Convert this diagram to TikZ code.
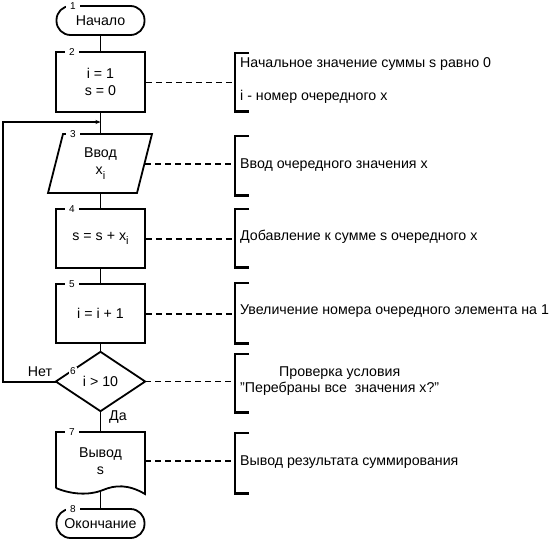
\documentclass[tikz,border=0pt]{standalone}
\usepackage{fontspec}
\setmainfont{Liberation Sans}
\usetikzlibrary{arrows.meta}
\newcommand{\subi}{\raisebox{-0.3em}{\fontsize{11}{11}\selectfont i}}
\begin{document}
\begin{tikzpicture}[x=1pt,y=-1pt,
  every node/.style={font=\fontsize{14.2}{17}\selectfont},
  ghost/.style={minimum width=89pt, minimum height=59pt, inner sep=0pt, align=center},
  proc/.style={ghost, draw, line width=1.8pt},
  term/.style={draw, line width=1.8pt, rounded corners=14pt, minimum width=88pt, minimum height=29pt, inner sep=0pt},
  shapeline/.style={line width=1.8pt, line join=miter},
  flow/.style={line width=1.2pt},
  num/.style={fill=white, inner xsep=4.5pt, inner ysep=0.5pt, font=\fontsize{10}{10}\selectfont},
  brk/.style={minimum width=14pt, inner sep=0pt},
  brkline/.style={line width=2.6pt},
  dashthin/.style={line width=1pt, dash pattern=on 6pt off 4pt},
  dashthick/.style={line width=2pt, dash pattern=on 6pt off 4pt},
  note/.style={anchor=west, inner sep=0pt},
]
\useasboundingbox (0,0) rectangle (549,541);

% flowchart blocks
\node[term] (t1) at (100.5,20.5) {Начало};
\node[proc, minimum height=60pt] (b2) at (100.5,82) {i = 1\\s = 0};
\node[ghost] (b3) at (100.5,163.5) {Ввод\\x\subi};
\draw[shapeline] (63,134) -- (152,134) -- (137,193) -- (48,193) -- cycle;
\node[proc] (b4) at (100.5,238.5) {s = s + x\subi};
\node[proc] (b5) at (100.5,313.5) {i = i + 1};
\node[ghost] (d6) at (100.5,381.5) {i > 10};
\draw[shapeline] (d6.north) -- (d6.east) -- (d6.south) -- (d6.west) -- cycle;
\node[ghost, minimum height=58pt] (b7) at (100.5,461) {Вывод\\s};
\draw[shapeline] (56,488) -- (56,432) -- (145,432) -- (145,494)
  .. controls (128,484) and (115,485) .. (103,490)
  .. controls (88,496) and (70,494) .. (56,488);
\node[term] (t8) at (100.5,523.5) {Окончание};

% flow lines
\draw[flow] (t1.south) -- (b2.north);
\draw[flow] (b2.south) -- (b3.north);
\draw[flow] (b3.south) -- (b4.north);
\draw[flow] (b4.south) -- (b5.north);
\draw[flow] (b5.south) -- (d6.north);
\draw[flow] (d6.south) -- (b7.north);
\draw[flow] (b7.south) -- (t8.north);

% loop back
\coordinate (lp) at (2.5,122);
\coordinate (j) at (100.5,122);
\draw[line width=2pt, -{Stealth[length=5pt,width=4pt]}] (d6.west) -| (lp) -- (j);

% numbers
\node[num] (n1) at (73,6) {1};
\node[num] (n2) at (72,52) {2};
\node[num] (n3) at (73,134) {3};
\node[num] (n4) at (72,209) {4};
\node[num] (n5) at (72,284) {5};
\node[num, inner xsep=1pt] (n6) at (73,371) {6};
\node[num] (n7) at (72,432) {7};
\node[num] (n8) at (73,509) {8};

% branch labels
\node (net) at (40,372) {Нет};
\node (da) at (118,417) {Да};

% brackets
\node[brk, minimum height=58pt] (k2) at (242,82) {};
\node[brk, minimum height=59pt] (k3) at (242,165.5) {};
\node[brk, minimum height=58pt] (k4) at (242,238) {};
\node[brk, minimum height=60pt] (k5) at (242,313) {};
\node[brk, minimum height=58pt] (k6) at (242,383) {};
\node[brk, minimum height=60pt] (k7) at (242,463) {};
\foreach \k in {k2,k3,k4,k5,k6,k7}
  \draw[brkline] (\k.north east) -| (\k.west) |- (\k.south east);

% dashed leaders
\draw[dashthin]  (b2.east) -- (b2.east -| k2.west);
\draw[dashthick] (b3.east) -- (b3.east -| k3.west);
\draw[dashthick] (b4.east) -- (b4.east -| k4.west);
\draw[dashthick] (b5.east) -- (b5.east -| k5.west);
\draw[dashthin]  (d6.east) -- (d6.east -| k6.west);
\draw[dashthick] (b7.east) -- (b7.east -| k7.west);

% comments
\node[note] (m2a) at (240,64) {Начальное значение суммы s равно 0};
\node[note] (m2b) at (240,97) {i - номер очередного x};
\node[note] (m3) at (240,165) {Ввод очередного значения x};
\node[note] (m4) at (240,237) {Добавление к сумме s очередного x};
\node[note] (m5) at (240,311) {Увеличение номера очередного элемента на 1};
\node[note, align=center, font=\fontsize{14.2}{15.5}\selectfont] (m6) at (240,381) {Проверка условия\\"Перебраны все\ \ значения x?"};
\node[note] (m7) at (240,462) {Вывод результата суммирования};
\end{tikzpicture}
\end{document}
